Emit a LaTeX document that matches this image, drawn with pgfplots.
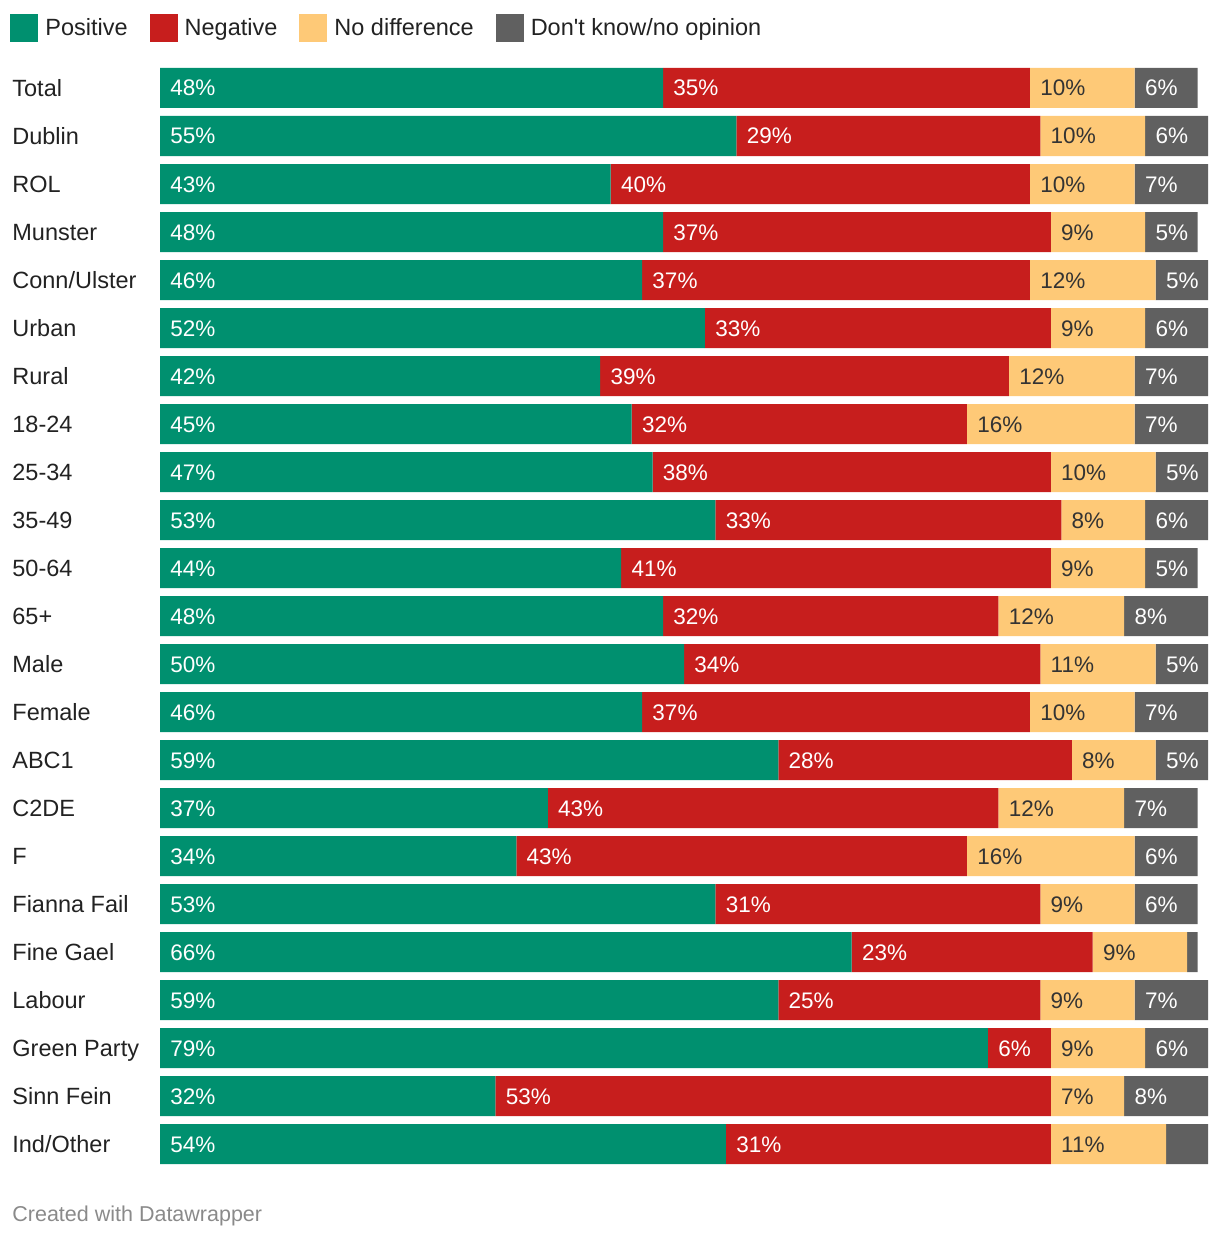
\documentclass[border=0pt]{standalone}
\usepackage{fontspec}
\setmainfont{Liberation Sans}
\usepackage{pgfplots}
\usepackage{pgfplotstable}
\pgfplotsset{compat=1.18}
\definecolor{cpos}{HTML}{00906F}
\definecolor{cneg}{HTML}{C71E1D}
\definecolor{cnod}{HTML}{FEC977}
\definecolor{cdk}{HTML}{606060}
\definecolor{ctext}{HTML}{222222}
\definecolor{cdark}{HTML}{333333}
\definecolor{cfoot}{HTML}{8A8A8A}

\pgfplotstableread{
idx pos neg nod dk
0 48 35 10 6
1 55 29 10 6
2 43 40 10 7
3 48 37 9 5
4 46 37 12 5
5 52 33 9 6
6 42 39 12 7
7 45 32 16 7
8 47 38 10 5
9 53 33 8 6
10 44 41 9 5
11 48 32 12 8
12 50 34 11 5
13 46 37 10 7
14 59 28 8 5
15 37 43 12 7
16 34 43 16 6
17 53 31 9 6
18 66 23 9 1
19 59 25 9 7
20 79 6 9 6
21 32 53 7 8
22 54 31 11 4
}\datatable

\newcommand{\mainfs}{\fontsize{11.75}{14}\selectfont}
\newcommand{\lblfs}{\fontsize{11.25}{14}\selectfont}

\pgfplotsset{
  common/.style={
    at={(80pt,589pt)}, anchor=north west,
    scale only axis, width=524pt, height=552pt,
    xmin=0, xmax=100, ymin=-0.5, ymax=22.5, y dir=reverse,
    axis line style={draw=none}, major tick length=0pt,
    xtick=\empty, clip=false,
  },
  lbl/.style={only marks, mark=none,
    nodes near coords={\pgfmathprintnumber{\pgfplotspointmeta}\%},
    nodes near coords style={anchor=base west, inner xsep=0pt, xshift=5pt, yshift=-4pt, font=\lblfs, text=#1},
  },
}

\begin{document}
\begin{tikzpicture}
\path[use as bounding box] (0,0) rectangle (610pt,621pt);
\begin{axis}[common,
  xbar stacked, bar width=20pt,
  ytick={0,...,22},
  yticklabels={Total, Dublin, ROL, Munster, Conn/Ulster, Urban, Rural, 18-24, 25-34, 35-49, 50-64, 65+, Male, Female, ABC1, C2DE, F, Fianna Fail, Fine Gael, Labour, Green Party, Sinn Fein, Ind/Other},
  yticklabel style={anchor=base west, xshift=-74pt, yshift=-4.2pt, inner xsep=0pt, font=\mainfs, text=ctext},
  legend columns=4,
  legend image code/.code={\fill[#1] (0pt,-7pt) rectangle (14pt,7pt);},
  legend style={at={(axis description cs:0,1)}, anchor=west, xshift=-75pt, yshift=18pt,
    draw=none, fill=none, inner sep=0pt, font=\mainfs, text=ctext,
    nodes={inner xsep=3.5pt},
    /tikz/every even column/.append style={column sep=7.5pt}},
]
\addplot[fill=cpos, draw=none] table[x=pos, y=idx]{\datatable};
\addplot[fill=cneg, draw=none] table[x=neg, y=idx]{\datatable};
\addplot[fill=cnod, draw=none] table[x=nod, y=idx]{\datatable};
\addplot[fill=cdk, draw=none] table[x=dk, y=idx]{\datatable};
\legend{Positive, Negative, No difference, Don\textquotesingle t know/no opinion}
\end{axis}

\begin{axis}[common, hide axis, /pgf/number format/assume math mode=true]
\addplot[lbl=white, point meta=\thisrow{pos}] table[x expr=0, y=idx]{\datatable};
\addplot[lbl=white, point meta=\thisrow{neg}] table[x expr=\thisrow{pos}, y=idx]{\datatable};
\addplot[lbl=cdark, point meta=\thisrow{nod}] table[x expr=\thisrow{pos}+\thisrow{neg}, y=idx]{\datatable};
\addplot[lbl=white, point meta=\thisrow{dk}, restrict expr to domain={\thisrow{dk}}{5:100}] table[x expr=\thisrow{pos}+\thisrow{neg}+\thisrow{nod}, y=idx]{\datatable};
\end{axis}

\node[anchor=west, inner sep=0pt, text=cfoot, font=\fontsize{10.75}{12}\selectfont] at (6pt,13pt) {Created with Datawrapper};
\end{tikzpicture}
\end{document}
